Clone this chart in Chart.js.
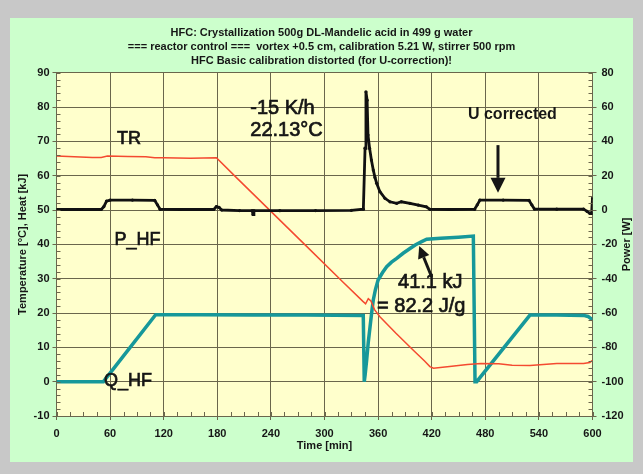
<!DOCTYPE html>
<html>
<head>
<meta charset="utf-8">
<script src="https://cdn.jsdelivr.net/npm/chart.js@4.4.1/dist/chart.umd.min.js"></script>
<style>
  html, body { margin: 0; padding: 0; background: #c8c8c8; }
  canvas { display: block; }
</style>
</head>
<body>
<canvas id="hfcChart" width="643" height="474"></canvas>
<script>
// tick values
var timeTicks = [0, 60, 120, 180, 240, 300, 360, 420, 480, 540, 600];
var leftTicks = [-10, 0, 10, 20, 30, 40, 50, 60, 70, 80, 90];
var powerTicks = [-120, -100, -80, -60, -40, -20, 0, 20, 40, 60, 80];

var titleLines = [
  'HFC: Crystallization 500g DL-Mandelic acid in 499 g water',
  '=== reactor control ===  vortex +0.5 cm, calibration 5.21 W, stirrer 500 rpm',
  'HFC Basic calibration distorted (for U-correction)!'
];

// TR, reactor temperature [°C]
var trTime = [0, 20, 40, 50, 57, 80, 100, 110, 120, 150, 179, 200, 240, 280, 320, 343, 346, 349, 352, 356, 362, 380, 400, 412, 418, 422, 440, 460, 475, 495, 510, 530, 545, 560, 590, 597, 600];
var trTemp = [65.7, 65.5, 65.3, 65.3, 65.7, 65.6, 65.5, 65.2, 65.2, 65.1, 65.2, 59.8, 49.6, 39.4, 29.2, 23.4, 22.7, 24.2, 23.5, 21.0, 18.9, 14.1, 9.0, 6.0, 4.4, 3.9, 4.4, 5.0, 5.3, 5.2, 4.8, 4.7, 5.0, 5.3, 5.3, 5.6, 6.2];

// P_HF, heat flow power [W]
var phfTime = [0, 25, 50, 53, 56, 60, 85, 110, 113, 116, 140, 176, 179, 182, 185, 205, 219, 220, 221, 250, 290, 330, 343.5, 345.4, 346.4, 347.7, 348.7, 350.5, 352.5, 354.6, 356.5, 358.4, 362, 367.7, 373.3, 380.8, 386, 395.7, 405, 414, 418, 440, 468, 471, 474, 500, 529, 532, 535, 560, 590, 594, 597, 599, 600];
var phfPower = [0.3, 0.3, 0.3, 2.0, 5.2, 5.8, 5.8, 5.6, 3.0, 0.4, 0.3, 0.3, 2.0, 1.5, 0.0, -0.3, -0.3, -2.6, -0.3, -0.4, -0.3, -0.2, 0.5, 36.0, 68.9, 64.0, 43.7, 35.9, 29.1, 23.3, 19.0, 15.6, 10.7, 6.8, 4.8, 3.9, 4.8, 3.9, 2.9, 1.9, 0.4, 0.3, 0.4, 3.0, 5.8, 5.8, 5.6, 3.0, 0.6, 0.5, 0.5, -0.8, -1.9, -2.0, 7.0];

// Q_HF, integrated heat [kJ]
var qhfTime = [0, 52.5, 111, 160, 220, 280, 343.4, 344.5, 345.5, 347.2, 349, 351, 353, 354.6, 357, 360, 365, 369.6, 375, 380.8, 388, 395.7, 402, 408.8, 414.4, 430, 450, 466.6, 468.5, 470.4, 530, 560, 590, 595, 600];
var qhfHeat = [0, 0, 19.5, 19.5, 19.4, 19.4, 19.3, 0, 2.0, 6.3, 11.5, 16.0, 20.5, 23.8, 26.8, 29.6, 31.8, 33.5, 34.8, 35.9, 37.4, 38.8, 39.9, 40.8, 41.5, 41.8, 42.1, 42.4, 0, 0, 19.4, 19.4, 19.3, 19.0, 18.0];

var FONT = "'Liberation Sans', Arial, sans-serif";
var GRID = '#6a664c';
var TXT = '#161616';

function pairs(xs, ys) {
  return xs.map(function (x, i) { return {x: x, y: ys[i]}; });
}
function fixTicks(list) {
  return function (scale) {
    scale.ticks = list.map(function (v) { return {value: v}; });
  };
}

// text notes and arrows, placed in time / left-axis units
var notes = [
  {text: 'TR', t: 67.7, v: 70.7, bold: false, size: 18},
  {text: 'P_HF', t: 65.0, v: 41.3, bold: false, size: 18},
  {text: 'Q_HF', t: 53.2, v: 0.3, bold: false, size: 18},
  {text: '-15 K/h', t: 216.9, v: 79.7, bold: false, size: 20},
  {text: '22.13°C', t: 216.9, v: 73.3, bold: false, size: 20},
  {text: 'U corrected', t: 460.6, v: 77.7, bold: true, size: 16},
  {text: '41.1 kJ', t: 382.3, v: 29.0, bold: false, size: 20},
  {text: '= 82.2 J/g', t: 358.8, v: 21.8, bold: false, size: 20}
];
var arrows = [
  {t0: 494.2, v0: 68.9, t1: 494.2, v1: 55.0, head: 15, half: 7.5},
  {t0: 420, v0: 30.5, t1: 406, v1: 39.5, head: 12, half: 6}
];

var panelPlugin = {
  id: 'panel',
  beforeDraw: function (chart) {
    var c = chart.ctx, a = chart.chartArea;
    c.save();
    c.fillStyle = '#c8c8c8';
    c.fillRect(0, 0, chart.width, chart.height);
    c.fillStyle = '#ccffcc';
    c.fillRect(10, 18, 623, 444);
    c.fillStyle = '#ffffcc';
    c.fillRect(a.left, a.top, a.right - a.left, a.bottom - a.top);
    c.restore();
  }
};

var minorTickPlugin = {
  id: 'minorTicks',
  afterDraw: function (chart) {
    var c = chart.ctx, a = chart.chartArea, s = chart.scales;
    c.save();
    c.strokeStyle = GRID;
    c.lineWidth = 1;
    c.beginPath();
    for (var v = -10; v <= 90; v += 2) {
      var py = Math.round(s.y.getPixelForValue(v)) + 0.5;
      c.moveTo(a.left, py); c.lineTo(a.left + 4, py);
    }
    for (var w = -120; w <= 80; w += 4) {
      var qy = Math.round(s.y1.getPixelForValue(w)) + 0.5;
      c.moveTo(a.right - 4, qy); c.lineTo(a.right, qy);
    }
    for (var t = 0; t <= 600; t += 15) {
      var px = Math.round(s.x.getPixelForValue(t)) + 0.5;
      c.moveTo(px, a.bottom); c.lineTo(px, a.bottom - 4);
    }
    c.stroke();

    // right axis title, reading bottom to top
    c.fillStyle = TXT;
    c.font = 'bold 11px ' + FONT;
    c.textAlign = 'center';
    c.textBaseline = 'middle';
    c.translate(627, (a.top + a.bottom) / 2);
    c.rotate(-Math.PI / 2);
    c.fillText('Power [W]', 0, 0);
    c.restore();
  }
};

var notesPlugin = {
  id: 'notes',
  afterDatasetsDraw: function (chart) {
    var c = chart.ctx, x = chart.scales.x, y = chart.scales.y;
    c.save();
    c.fillStyle = TXT;
    c.strokeStyle = TXT;
    c.textAlign = 'left';
    c.textBaseline = 'middle';
    notes.forEach(function (n) {
      var px = x.getPixelForValue(n.t), py = y.getPixelForValue(n.v);
      c.font = (n.bold ? 'bold ' : '') + n.size + 'px ' + FONT;
      c.fillText(n.text, px, py);
      if (!n.bold) {
        // the scanned labels look heavier than plain regular weight
        c.lineWidth = 0.7;
        c.strokeText(n.text, px, py);
      }
    });
    arrows.forEach(function (r) {
      var x0 = x.getPixelForValue(r.t0), y0 = y.getPixelForValue(r.v0);
      var x1 = x.getPixelForValue(r.t1), y1 = y.getPixelForValue(r.v1);
      var ang = Math.atan2(y1 - y0, x1 - x0);
      var bx = x1 - r.head * Math.cos(ang), by = y1 - r.head * Math.sin(ang);
      c.lineWidth = 3;
      c.beginPath(); c.moveTo(x0, y0); c.lineTo(bx, by); c.stroke();
      c.beginPath();
      c.moveTo(x1, y1);
      c.lineTo(bx + r.half * Math.sin(ang), by - r.half * Math.cos(ang));
      c.lineTo(bx - r.half * Math.sin(ang), by + r.half * Math.cos(ang));
      c.closePath(); c.fill();
    });
    c.restore();
  }
};

var tickFont = {family: FONT, size: 11, weight: 'bold'};
var titleFont = {family: FONT, size: 11, weight: 'bold'};

var ctx = document.getElementById('hfcChart').getContext('2d');
var chart = new Chart(ctx, {
  type: 'line',
  data: {
    datasets: [{
      label: 'P_HF',
      data: pairs(phfTime, phfPower),
      yAxisID: 'y1',
      borderColor: '#111111',
      backgroundColor: '#111111',
      borderWidth: 2.8,
      pointRadius: 1.6,
      pointBorderWidth: 0
    }, {
      label: 'TR',
      data: pairs(trTime, trTemp),
      yAxisID: 'y',
      borderColor: '#f44a30',
      borderWidth: 1.5,
      pointRadius: 0
    }, {
      label: 'Q_HF',
      data: pairs(qhfTime, qhfHeat),
      yAxisID: 'y',
      borderColor: '#16989a',
      borderWidth: 3.5,
      pointRadius: 0
    }]
  },
  options: {
    responsive: false,
    animation: false,
    layout: {padding: {left: 10, right: 10, top: 18, bottom: 12}},
    plugins: {
      legend: {display: false},
      tooltip: {enabled: false},
      title: {
        display: true,
        text: titleLines,
        color: TXT,
        font: {family: FONT, size: 11, weight: 'bold', lineHeight: '14px'},
        padding: {top: 8, bottom: 4.7}
      }
    },
    scales: {
      x: {
        type: 'linear',
        min: 0, max: 600,
        afterBuildTicks: fixTicks(timeTicks),
        afterFit: function (s) { s.height = 46; },
        grid: {color: GRID, lineWidth: 1, tickLength: 4},
        border: {color: GRID},
        ticks: {color: TXT, font: tickFont, padding: 7, maxRotation: 0},
        title: {display: true, text: 'Time [min]', color: TXT, font: titleFont, padding: {top: 0, bottom: 9}}
      },
      y: {
        position: 'left',
        min: -10, max: 90,
        afterBuildTicks: fixTicks(leftTicks),
        afterFit: function (s) { s.width = 46.5; },
        grid: {color: GRID, lineWidth: 1, tickLength: 4},
        border: {color: GRID},
        ticks: {color: TXT, font: tickFont, padding: 3},
        title: {display: true, text: 'Temperature [°C], Heat [kJ]', color: TXT, font: titleFont, padding: {top: 6, bottom: 0}}
      },
      y1: {
        position: 'right',
        min: -120, max: 80,
        afterBuildTicks: fixTicks(powerTicks),
        afterFit: function (s) { s.width = 40.5; },
        grid: {drawOnChartArea: false, color: GRID, lineWidth: 1, tickLength: 4},
        border: {color: GRID},
        ticks: {color: TXT, font: tickFont, padding: 5}
      }
    }
  },
  plugins: [panelPlugin, minorTickPlugin, notesPlugin]
});
</script>
</body>
</html>
